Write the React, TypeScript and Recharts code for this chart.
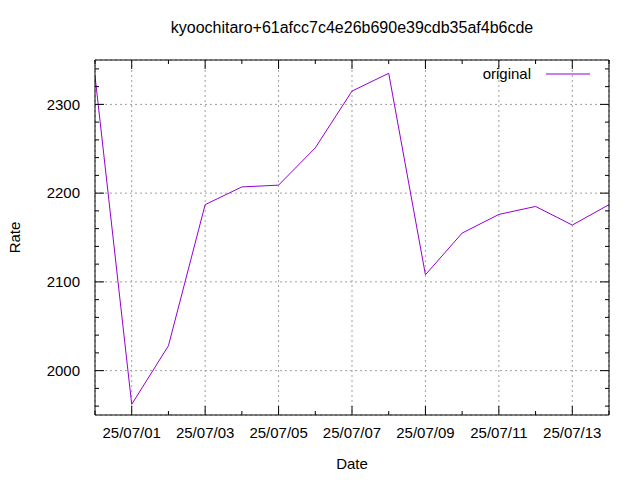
import React from 'react';
import { LineChart, Line, XAxis, YAxis, CartesianGrid, Legend, Label } from 'recharts';

const dayLabels = [
  '25/06/30', '25/07/01', '25/07/02', '25/07/03', '25/07/04', '25/07/05', '25/07/06', '25/07/07',
  '25/07/08', '25/07/09', '25/07/10', '25/07/11', '25/07/12', '25/07/13', '25/07/14',
];
const days = [0, 1, 2, 3, 4, 5, 6, 7, 8, 9, 10, 11, 12, 13, 14];
const rates = [2332, 1962, 2028, 2187, 2207, 2209, 2251, 2315, 2335, 2108, 2155, 2176, 2185, 2164, 2187];
const majorDays = [1, 3, 5, 7, 9, 11, 13];
const allDays = [0, 1, 2, 3, 4, 5, 6, 7, 8, 9, 10, 11, 12, 13, 14];
const majorRates = [2000, 2100, 2200, 2300];
const allRates = [
  1960, 1980, 2000, 2020, 2040, 2060, 2080, 2100, 2120, 2140, 2160, 2180, 2200, 2220, 2240, 2260, 2280,
  2300, 2320, 2340,
];
const xDomain = [0, 14];
const yDomain = [1950, 2350];
const title = 'kyoochitaro+61afcc7c4e26b690e39cdb35af4b6cde';
const seriesName = 'original';

const data = days.map((d, i) => ({ day: d, rate: rates[i] }));

const FONT = '"Liberation Sans", Arial, Helvetica, sans-serif';
const FS = 15;
const LINE_COLOR = '#9400d3';
const MAJOR = 9;
const MINOR = 4;

type Side = 'bottom' | 'top' | 'left' | 'right';

const makeTick = (side: Side, majors: number[], label?: (v: number) => string) => (props: any) => {
  const { x, y, payload } = props;
  const v = payload.value;
  const isMajor = majors.includes(v);
  const len = isMajor ? MAJOR : MINOR;
  let x2 = x;
  let y2 = y;
  if (side === 'bottom') y2 = y - len;
  if (side === 'top') y2 = y + len;
  if (side === 'left') x2 = x + len;
  if (side === 'right') x2 = x - len;
  let txt = null;
  if (label && isMajor) {
    if (side === 'bottom') {
      txt = (
        <text x={x} y={y + 23} textAnchor="middle" fontFamily={FONT} fontSize={FS} fill="#000">
          {label(v)}
        </text>
      );
    } else if (side === 'left') {
      txt = (
        <text x={x - 15} y={y} dy="0.35em" textAnchor="end" fontFamily={FONT} fontSize={FS} fill="#000">
          {label(v)}
        </text>
      );
    }
  }
  return (
    <g>
      <line x1={x} y1={y} x2={x2} y2={y2} stroke="#000" strokeWidth={1} />
      {txt}
    </g>
  );
};

const renderLegend = () => (
  <svg width={160} height={20} style={{ display: 'block' }}>
    <text x={91} y={15} textAnchor="end" fontFamily={FONT} fontSize={FS} fill="#000">
      {seriesName}
    </text>
    <line x1={106} y1={10} x2={150} y2={10} stroke={LINE_COLOR} strokeWidth={1} />
  </svg>
);

const axisCommon = {
  type: 'number' as const,
  allowDataOverflow: true,
  interval: 0 as const,
  tickSize: 0,
  tickMargin: 0,
  tickLine: false,
};

export default function App() {
  return (
    <div style={{ position: 'absolute', left: 0, top: 0, width: 640, height: 480, background: '#fff' }}>
      <LineChart width={640} height={480} data={data} margin={{ top: 59, right: 30, bottom: 64, left: 94 }}>
        <XAxis xAxisId="gx" hide type="number" domain={xDomain} allowDataOverflow ticks={majorDays} interval={0} />
        <YAxis yAxisId="gy" hide type="number" domain={yDomain} allowDataOverflow ticks={majorRates} interval={0} />
        <CartesianGrid stroke="#a0a0a0" strokeDasharray="2 3" xAxisId="gx" yAxisId="gy" />
        <XAxis
          {...axisCommon}
          xAxisId={0}
          dataKey="day"
          domain={xDomain}
          ticks={allDays}
          height={1}
          axisLine={{ stroke: '#000' }}
          tick={makeTick('bottom', majorDays, (v) => dayLabels[v])}
        >
          <Label
            content={(p: any) => {
              const vb = p.viewBox;
              return (
                <text x={vb.x + vb.width / 2} y={vb.y + 54} textAnchor="middle" fontFamily={FONT} fontSize={FS} fill="#000">
                  Date
                </text>
              );
            }}
          />
        </XAxis>
        <XAxis
          {...axisCommon}
          xAxisId="xt"
          orientation="top"
          domain={xDomain}
          ticks={allDays}
          height={1}
          axisLine={{ stroke: '#000' }}
          tick={makeTick('top', majorDays)}
        >
          <Label
            content={(p: any) => {
              const vb = p.viewBox;
              return (
                <text x={vb.x + vb.width / 2} y={vb.y + vb.height - 27} textAnchor="middle" fontFamily={FONT} fontSize={16} fill="#000">
                  {title}
                </text>
              );
            }}
          />
        </XAxis>
        <YAxis
          {...axisCommon}
          yAxisId={0}
          domain={yDomain}
          ticks={allRates}
          width={1}
          axisLine={{ stroke: '#000' }}
          tick={makeTick('left', majorRates, (v) => String(v))}
        >
          <Label
            content={(p: any) => {
              const vb = p.viewBox;
              const cx = vb.x + vb.width - 80;
              const cy = vb.y + vb.height / 2;
              return (
                <text
                  x={cx}
                  y={cy}
                  dy="0.35em"
                  transform={`rotate(-90 ${cx} ${cy})`}
                  textAnchor="middle"
                  fontFamily={FONT}
                  fontSize={FS}
                  fill="#000"
                >
                  Rate
                </text>
              );
            }}
          />
        </YAxis>
        <YAxis
          {...axisCommon}
          yAxisId="yr"
          orientation="right"
          domain={yDomain}
          ticks={allRates}
          width={1}
          axisLine={{ stroke: '#000' }}
          tick={makeTick('right', majorRates)}
        />
        <Legend
          layout="vertical"
          align="center"
          verticalAlign="middle"
          wrapperStyle={{ top: 64, left: 440, width: 160, height: 20 }}
          content={renderLegend}
        />
        <Line
          xAxisId={0}
          yAxisId={0}
          type="linear"
          dataKey="rate"
          name={seriesName}
          stroke={LINE_COLOR}
          strokeWidth={1}
          dot={false}
          activeDot={false}
          isAnimationActive={false}
        />
      </LineChart>
    </div>
  );
}
